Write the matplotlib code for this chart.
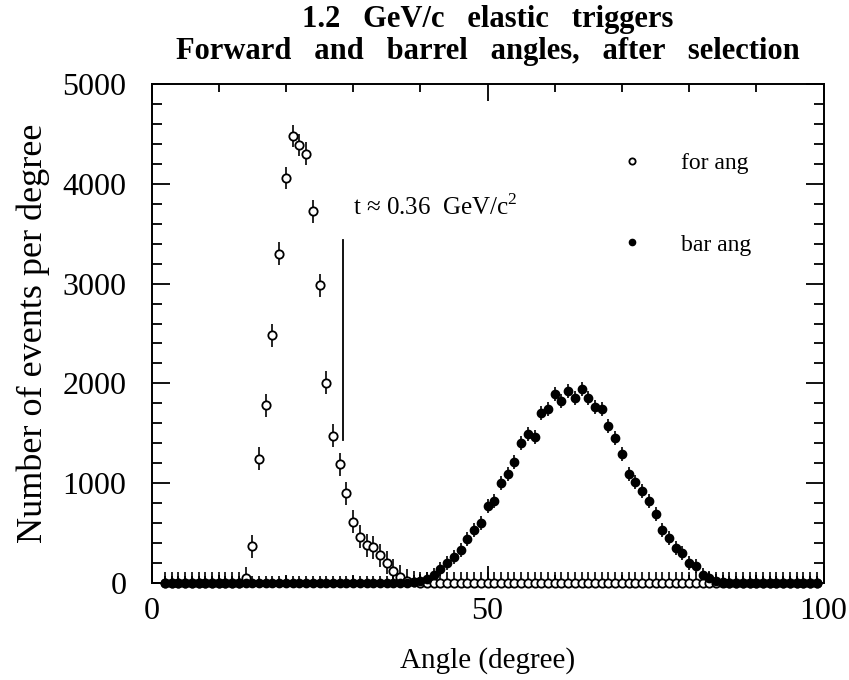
import matplotlib
matplotlib.use("Agg")
import matplotlib.pyplot as plt
from matplotlib.ticker import MultipleLocator, FixedLocator
import numpy as np

plt.rcParams['font.family'] = ['Liberation Serif', 'DejaVu Serif']
plt.rcParams['mathtext.fontset'] = 'custom'
plt.rcParams['mathtext.rm'] = 'Liberation Serif'

# ---- data ----
angles = list(range(2, 100))  # bin centres (degree)

# forward angle distribution (open circles), nonzero part
for_start = 14
for_vals_nz = [50, 370, 1245, 1780, 2480, 3297, 4058, 4479, 4389, 4299, 3724,
               2983, 2005, 1475, 1190, 900, 612, 465, 380, 357, 277, 204, 123,
               63, 25, 10]
# barrel angle distribution (filled circles), nonzero part
bar_start = 37
bar_vals_nz = [3, 5, 10, 20, 40, 80,
               137, 197, 257, 331, 438, 531, 604, 771, 822, 1005, 1095, 1212,
               1406, 1493, 1463, 1700, 1747, 1891, 1824, 1924, 1857, 1941, 1857,
               1764, 1747, 1573, 1456, 1293, 1089, 1015, 925, 822, 694, 528,
               454, 354, 304, 204, 170, 80, 47, 20, 10, 5]
for_err = 115
bar_err = 70

for_vals = [0.0] * len(angles)
for i, v in enumerate(for_vals_nz):
    for_vals[angles.index(for_start + i)] = v
bar_vals = [0.0] * len(angles)
for i, v in enumerate(bar_vals_nz):
    bar_vals[angles.index(bar_start + i)] = v

t_line_x = 28.5
t_line_y = (1430, 3440)
t_text_pos = (30.0, 3690)

# ---- figure ----
fig = plt.figure(figsize=(8.49, 6.8), dpi=100)
ax = fig.add_axes([151.5 / 849, 1 - 583 / 680, (823.5 - 151.5) / 849, (583 - 84) / 680])

x = np.array(angles, dtype=float)
fv = np.array(for_vals)
bv = np.array(bar_vals)

# error bars (clipped at the axis)
ax.errorbar(x, fv, yerr=for_err, fmt='none', ecolor='black', elinewidth=1.2, capsize=0, zorder=2)
ax.errorbar(x, bv, yerr=bar_err, fmt='none', ecolor='black', elinewidth=1.2, capsize=0, zorder=3)

# markers
ax.plot(x, fv, 'o', ms=6.0, mfc='white', mec='black', mew=1.3, ls='none',
        clip_on=False, zorder=4, label='for ang')
ax.plot(x, bv, 'o', ms=6.0, mfc='black', mec='black', mew=1.0, ls='none',
        clip_on=False, zorder=5, label='bar ang')

ax.set_xlim(0, 100)
ax.set_ylim(0, 5000)

# ticks
ax.xaxis.set_major_locator(FixedLocator([0, 50, 100]))
ax.xaxis.set_minor_locator(MultipleLocator(10))
ax.yaxis.set_major_locator(MultipleLocator(1000))
ax.yaxis.set_minor_locator(MultipleLocator(200))
ax.tick_params(which='both', direction='in', top=True, right=True, width=1.3)
ax.tick_params(axis='y', which='major', length=13)
ax.tick_params(axis='y', which='minor', length=7)
ax.tick_params(axis='x', which='major', length=12)
ax.tick_params(axis='x', which='minor', length=6)
ax.tick_params(axis='y', which='major', labelsize=23, pad=18)
ax.tick_params(axis='x', which='major', labelsize=23, pad=10)
for s in ax.spines.values():
    s.set_linewidth(1.4)

ax.set_xlabel('Angle (degree)', fontsize=21, labelpad=15)
ax.set_ylabel('Number of events per degree', fontsize=26, labelpad=9)

title_x = (151.5 + 823.5) / 2 / 849
fig.text(title_x, 1 - 19 / 680, '1.2   GeV/c   elastic   triggers', ha='center', va='center',
         fontsize=22, fontweight='bold')
fig.text(title_x, 1 - 51 / 680, 'Forward   and   barrel   angles,   after   selection', ha='center',
         va='center', fontsize=22, fontweight='bold')

# t annotation
ax.plot([t_line_x, t_line_x], list(t_line_y), color='black', lw=1.3, zorder=3)
ax.text(t_text_pos[0], t_text_pos[1], r't ≈ 0.36  GeV/c$^{2}$', fontsize=18,
        ha='left', va='baseline')

leg = ax.legend(loc='upper left', bbox_to_anchor=(0.69, 0.882), frameon=False,
                fontsize=17, markerscale=0.75, handlelength=0.6, handletextpad=1.8,
                labelspacing=2.55, borderaxespad=0)

fig.savefig('out.png', dpi=100)
